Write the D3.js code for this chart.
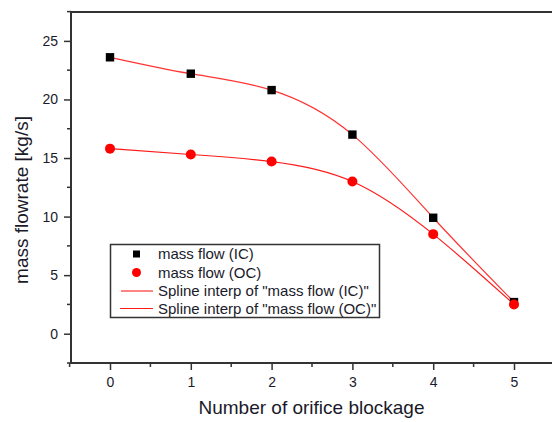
<!DOCTYPE html>
<html>
<head>
<meta charset="utf-8">
<script src="https://cdn.jsdelivr.net/npm/d3@7"></script>
<style>
  html, body { margin: 0; padding: 0; background: #fff; }
  svg { display: block; }
  text { font-family: "Liberation Sans", Arial, sans-serif; fill: #1a1a2a; }
</style>
</head>
<body>
<svg id="chart" width="552" height="422"></svg>
<script>
// Number of blocked orifices
const blockage = [0, 1, 2, 3, 4, 5];
// Mass flow rates [kg/s]
const massFlowIC = [23.6, 22.2, 20.8, 17.0, 9.9, 2.7];
const massFlowOC = [15.8, 15.3, 14.7, 13.0, 8.5, 2.5];
const xTicks = [0, 1, 2, 3, 4, 5];
const yTicks = [0, 5, 10, 15, 20, 25];
const legendLabels = [
  "mass flow (IC)",
  "mass flow (OC)",
  "Spline interp of \"mass flow (IC)\"",
  "Spline interp of \"mass flow (OC)\""
];

const svg = d3.select("#chart");
const frame = { left: 71, right: 560, top: 12, bottom: 363 };

const x = d3.scaleLinear().domain([0, 5]).range([110, 514]);
const y = d3.scaleLinear().domain([0, 25]).range([333.7, 40.9]);

const axisColor = "#333";

// Frame: top edge and left/bottom axes
svg.append("line")
  .attr("x1", frame.left).attr("x2", frame.right)
  .attr("y1", frame.top).attr("y2", frame.top)
  .attr("stroke", axisColor).attr("stroke-width", 2);

// Y axis with outward major and minor ticks
const yAxis = d3.axisLeft(y).tickValues(yTicks).tickSize(7).tickPadding(6).tickFormat(d3.format("d"));
const gy = svg.append("g").attr("transform", `translate(${frame.left},0)`).call(yAxis);
gy.select(".domain").remove();
gy.selectAll(".tick line").attr("stroke", axisColor).attr("stroke-width", 1.5);
gy.selectAll(".tick text").style("font-size", "14px").attr("fill", "#1a1a2a");
svg.append("g").selectAll("line")
  .data(d3.range(-2.5, 27.6, 5))
  .join("line")
  .attr("x1", frame.left - 4).attr("x2", frame.left)
  .attr("y1", d => y(d)).attr("y2", d => y(d))
  .attr("stroke", axisColor).attr("stroke-width", 1.5);
svg.append("line")
  .attr("x1", frame.left).attr("x2", frame.left)
  .attr("y1", frame.top - 1).attr("y2", frame.bottom + 1)
  .attr("stroke", axisColor).attr("stroke-width", 2);

// X axis with outward major and minor ticks
const xAxis = d3.axisBottom(x).tickValues(xTicks).tickSize(7).tickPadding(7).tickFormat(d3.format("d"));
const gx = svg.append("g").attr("transform", `translate(0,${frame.bottom})`).call(xAxis);
gx.select(".domain").remove();
gx.selectAll(".tick line").attr("stroke", axisColor).attr("stroke-width", 1.5);
gx.selectAll(".tick text").style("font-size", "14px").attr("fill", "#1a1a2a");
svg.append("g").selectAll("line")
  .data(d3.range(-0.5, 5.6, 1))
  .join("line")
  .attr("x1", d => x(d)).attr("x2", d => x(d))
  .attr("y1", frame.bottom).attr("y2", frame.bottom + 4)
  .attr("stroke", axisColor).attr("stroke-width", 1.5);
svg.append("line")
  .attr("x1", frame.left - 1).attr("x2", frame.right)
  .attr("y1", frame.bottom).attr("y2", frame.bottom)
  .attr("stroke", axisColor).attr("stroke-width", 2);

// Axis titles
svg.append("text")
  .attr("x", 311.5).attr("y", 414)
  .attr("text-anchor", "middle")
  .style("font-size", "19px")
  .text("Number of orifice blockage");
svg.append("text")
  .attr("transform", `translate(28,${200}) rotate(-90)`)
  .attr("text-anchor", "middle")
  .style("font-size", "19px")
  .text("mass flowrate [kg/s]");

// Natural cubic spline through each series
const spline = d3.line()
  .x((d, i) => x(blockage[i]))
  .y(d => y(d))
  .curve(d3.curveNatural);

svg.append("path").datum(massFlowIC)
  .attr("d", spline).attr("fill", "none")
  .attr("stroke", "#ff3333").attr("stroke-width", 1.2);
svg.append("path").datum(massFlowOC)
  .attr("d", spline).attr("fill", "none")
  .attr("stroke", "#ff1a1a").attr("stroke-width", 1.2);

// Markers
svg.append("g").selectAll("rect")
  .data(massFlowIC)
  .join("rect")
  .attr("x", (d, i) => x(blockage[i]) - 4.2)
  .attr("y", d => y(d) - 4.2)
  .attr("width", 8.4).attr("height", 8.4)
  .attr("fill", "#000");
svg.append("g").selectAll("circle")
  .data(massFlowOC)
  .join("circle")
  .attr("cx", (d, i) => x(blockage[i]))
  .attr("cy", d => y(d))
  .attr("r", 5)
  .attr("fill", "#ff0000");

// Legend
const legend = svg.append("g");
legend.append("rect")
  .attr("x", 110.5).attr("y", 244.5)
  .attr("width", 269).attr("height", 73)
  .attr("fill", "#fff").attr("stroke", "#333").attr("stroke-width", 1.5);
const rowY = [254, 272.5, 291, 308.5];
legend.append("rect")
  .attr("x", 133).attr("y", rowY[0] - 3.5).attr("width", 7).attr("height", 7)
  .attr("fill", "#000");
legend.append("circle")
  .attr("cx", 136.5).attr("cy", rowY[1]).attr("r", 4.5)
  .attr("fill", "#ff0000");
legend.append("line")
  .attr("x1", 121).attr("x2", 153).attr("y1", rowY[2]).attr("y2", rowY[2])
  .attr("stroke", "#ff3333").attr("stroke-width", 1.2);
legend.append("line")
  .attr("x1", 120).attr("x2", 153).attr("y1", rowY[3]).attr("y2", rowY[3])
  .attr("stroke", "#ff1a1a").attr("stroke-width", 1.2);
legend.selectAll("text.lab")
  .data(legendLabels)
  .join("text")
  .attr("class", "lab")
  .attr("x", 158)
  .attr("y", (d, i) => rowY[i])
  .attr("dy", "0.35em")
  .style("font-size", "15px")
  .text(d => d);
</script>
</body>
</html>
